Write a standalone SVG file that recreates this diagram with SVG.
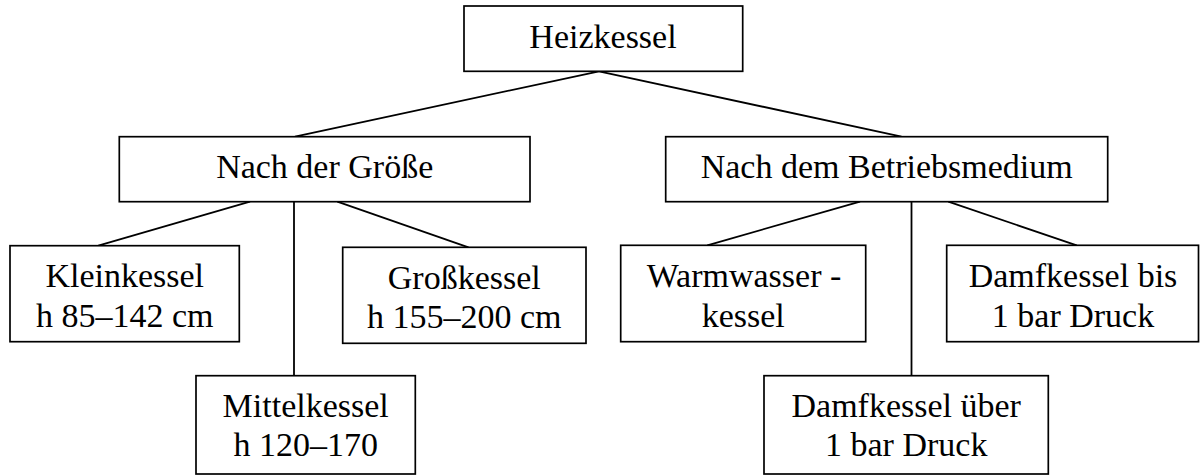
<svg xmlns="http://www.w3.org/2000/svg" width="1200" height="475" viewBox="0 0 1200 475">
  <style>
    .box { fill: #ffffff; stroke: #000000; stroke-width: 1.7; }
    .link { fill: none; stroke: #000000; stroke-width: 1.8; }
    .lbl { font-family: 'Liberation Serif', 'Times New Roman', Tinos, 'DejaVu Serif', serif; font-size: 34px; fill: #000000; text-anchor: middle; }
  </style>
  <rect x="0" y="0" width="1200" height="475" fill="#ffffff"/>

  <!-- connectors -->
  <g id="connectors">
    <line class="link" x1="599" y1="71.3" x2="295" y2="136.7"/>
    <line class="link" x1="599" y1="71.3" x2="901.5" y2="136.7"/>
    <line class="link" x1="250" y1="201.7" x2="98.3" y2="245.7"/>
    <line class="link" x1="294" y1="201.7" x2="294" y2="375.7"/>
    <line class="link" x1="337.3" y1="201.7" x2="468.5" y2="247.3"/>
    <line class="link" x1="860" y1="201.7" x2="707.3" y2="245.3"/>
    <line class="link" x1="911.5" y1="201.7" x2="911.5" y2="375.7"/>
    <line class="link" x1="948.3" y1="201.7" x2="1076.7" y2="245.3"/>
  </g>

  <g font-family="Liberation Serif, Times New Roman, serif">
  <!-- root -->
  <g id="heizkessel">
    <rect class="box" x="464" y="6" width="278.7" height="65.3"/>
    <text class="lbl" x="603" y="48.3">Heizkessel</text>
  </g>

  <!-- first level -->
  <g id="nach-groesse">
    <rect class="box" x="119.3" y="136.7" width="410.7" height="65"/>
    <text class="lbl" x="324.7" y="178.3">Nach der Größe</text>
  </g>
  <g id="nach-betriebsmedium">
    <rect class="box" x="665.7" y="136.7" width="442" height="65"/>
    <text class="lbl" x="886.7" y="178.3">Nach dem Betriebsmedium</text>
  </g>

  <!-- by size -->
  <g id="kleinkessel">
    <rect class="box" x="10" y="245.7" width="229.3" height="96"/>
    <text class="lbl" x="124.7" y="286.7">Kleinkessel</text>
    <text class="lbl" x="124.7" y="326.7">h 85–142 cm</text>
  </g>
  <g id="mittelkessel">
    <rect class="box" x="196" y="375.7" width="219.3" height="98.3"/>
    <text class="lbl" x="305.7" y="416.7">Mittelkessel</text>
    <text class="lbl" x="305.7" y="456">h 120–170</text>
  </g>
  <g id="grosskessel">
    <rect class="box" x="342.7" y="247.3" width="243.3" height="96"/>
    <text class="lbl" x="464.3" y="289">Großkessel</text>
    <text class="lbl" x="464.3" y="328.3">h 155–200 cm</text>
  </g>

  <!-- by medium -->
  <g id="warmwasserkessel">
    <rect class="box" x="620.7" y="245.3" width="245" height="96.4"/>
    <text class="lbl" x="744" y="286.7">Warmwasser -</text>
    <text class="lbl" x="743.2" y="326.7">kessel</text>
  </g>
  <g id="dampfkessel-ueber">
    <rect class="box" x="764" y="375.7" width="284.3" height="98.3"/>
    <text class="lbl" x="906.2" y="416.7">Damfkessel über</text>
    <text class="lbl" x="906.2" y="456">1 bar Druck</text>
  </g>
  <g id="dampfkessel-bis">
    <rect class="box" x="946.7" y="245.3" width="251.8" height="96.4"/>
    <text class="lbl" x="1073" y="286.7">Damfkessel bis</text>
    <text class="lbl" x="1073" y="326.7">1 bar Druck</text>
  </g>
  </g>
</svg>
